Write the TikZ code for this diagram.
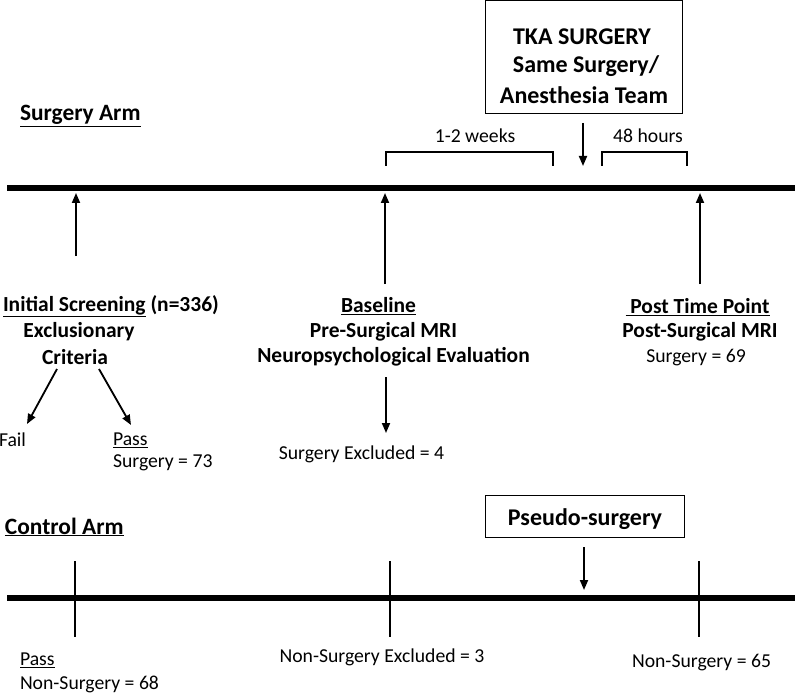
\documentclass[tikz,border=0pt]{standalone}
\usepackage{fontspec}
\setmainfont{Carlito}
\usetikzlibrary{arrows.meta}
\begin{document}
\begin{tikzpicture}[x=1pt,y=-1pt,
  every node/.style={inner sep=0pt,outer sep=0pt},
  bt/.style={font=\bfseries\fontsize{21.5}{25}\selectfont},
  ht/.style={font=\bfseries\fontsize{23.4}{27}\selectfont},
  xt/.style={font=\bfseries\fontsize{24}{27}\selectfont},
  rt/.style={font=\fontsize{19.7}{23}\selectfont},
  timeline/.style={line width=6.5pt},
  arr/.style={line width=1.8pt,-{Triangle[length=10pt,width=8pt]}},
  tick/.style={line width=2.8pt},
  brk/.style={line width=1.4pt},
  box/.style={draw,line width=0.8pt}]
\useasboundingbox (0,0) rectangle (800,695);
% Surgery arm
\node[ht,anchor=west] (sarm) at (20,116) {\underline{Surgery Arm}};
\node[box,minimum width=197pt,minimum height=113pt] (tka) at (583.5,57) {};
\node[xt] (t1) at (582,37) {TKA SURGERY};
\node[xt] (t2) at (586,66) {Same Surgery/};
\node[xt] (t3) at (584,95) {Anesthesia Team};
\coordinate (sL) at (7,188);
\coordinate (sR) at (795,188);
\draw[timeline] (sL) -- (sR);
\coordinate (tkaA) at (583,123);
\coordinate (tkaB) at (583,166);
\draw[arr] (tkaA) -- (tkaB);
% brackets
\coordinate (b1a) at (386,166); \coordinate (b1b) at (386,152);
\coordinate (b1c) at (553,152); \coordinate (b1d) at (553,166);
\draw[brk] (b1a) -- (b1b) -- (b1c) -- (b1d);
\node[rt] (w12) at (475,136) {1-2 weeks};
\coordinate (b2a) at (602,166); \coordinate (b2b) at (602,152);
\coordinate (b2c) at (687,152); \coordinate (b2d) at (687,166);
\draw[brk] (b2a) -- (b2b) -- (b2c) -- (b2d);
\node[rt] (h48) at (648,136) {48 hours};
% up arrows
\coordinate (u1a) at (76,256); \coordinate (u1b) at (76,193);
\coordinate (u2a) at (385,284); \coordinate (u2b) at (385,193);
\coordinate (u3a) at (700,284); \coordinate (u3b) at (700,193);
\draw[arr] (u1a) -- (u1b);
\draw[arr] (u2a) -- (u2b);
\draw[arr] (u3a) -- (u3b);
% Initial screening
\node[bt,anchor=west] (is) at (3,306) {\underline{Initial Screening} (n=336)};
\node[bt] (ex) at (79,332) {Exclusionary};
\node[bt] (cr) at (75,357) {Criteria};
\coordinate (fa) at (57,369); \coordinate (fb) at (27,424);
\coordinate (pa) at (99,369); \coordinate (pb) at (131,425);
\draw[arr] (fa) -- (fb);
\draw[arr] (pa) -- (pb);
\node[rt,anchor=west] (fail) at (-1,440) {Fail};
\node[rt,anchor=west] (pass) at (113,440) {\underline{Pass}};
\node[rt,anchor=west] (s73) at (113,463) {Surgery = 73};
% Baseline
\node[bt] (bl) at (378.5,306) {\underline{Baseline}};
\node[bt] (pre) at (383.5,332) {Pre-Surgical MRI};
\node[bt] (neu) at (393.5,357) {Neuropsychological Evaluation};
\coordinate (da) at (386,377); \coordinate (db) at (386,433);
\draw[arr] (da) -- (db);
\node[rt] (se4) at (361.5,454) {Surgery Excluded = 4};
% Post time point
\node[bt] (ptp) at (697.5,307) {\underline{\ Post Time Point}};
\node[bt] (psm) at (700,332) {Post-Surgical MRI};
\node[rt] (s69) at (696,358) {Surgery = 69};
% Control arm
\node[ht,anchor=west] (carm) at (5,527) {\underline{Control Arm}};
\node[box,minimum width=199pt,minimum height=42pt] (ps) at (584.5,516) {};
\node[xt] (pst) at (585,519) {Pseudo-surgery};
\coordinate (cL) at (7,598);
\coordinate (cR) at (795,598);
\draw[timeline] (cL) -- (cR);
\coordinate (pa1) at (584,547); \coordinate (pa2) at (584,590);
\draw[arr] (pa1) -- (pa2);
\coordinate (k1a) at (75,561); \coordinate (k1b) at (75,637);
\coordinate (k2a) at (390,561); \coordinate (k2b) at (390,637);
\coordinate (k3a) at (699,561); \coordinate (k3b) at (699,637);
\draw[tick] (k1a) -- (k1b);
\draw[tick] (k2a) -- (k2b);
\draw[tick] (k3a) -- (k3b);
\node[rt,anchor=west] (cpass) at (20,660) {\underline{Pass}};
\node[rt,anchor=west] (n68) at (20,684) {Non-Surgery = 68};
\node[rt] (ne3) at (382,657) {Non-Surgery Excluded = 3};
\node[rt] (n65) at (701.5,663) {Non-Surgery = 65};
\end{tikzpicture}
\end{document}
